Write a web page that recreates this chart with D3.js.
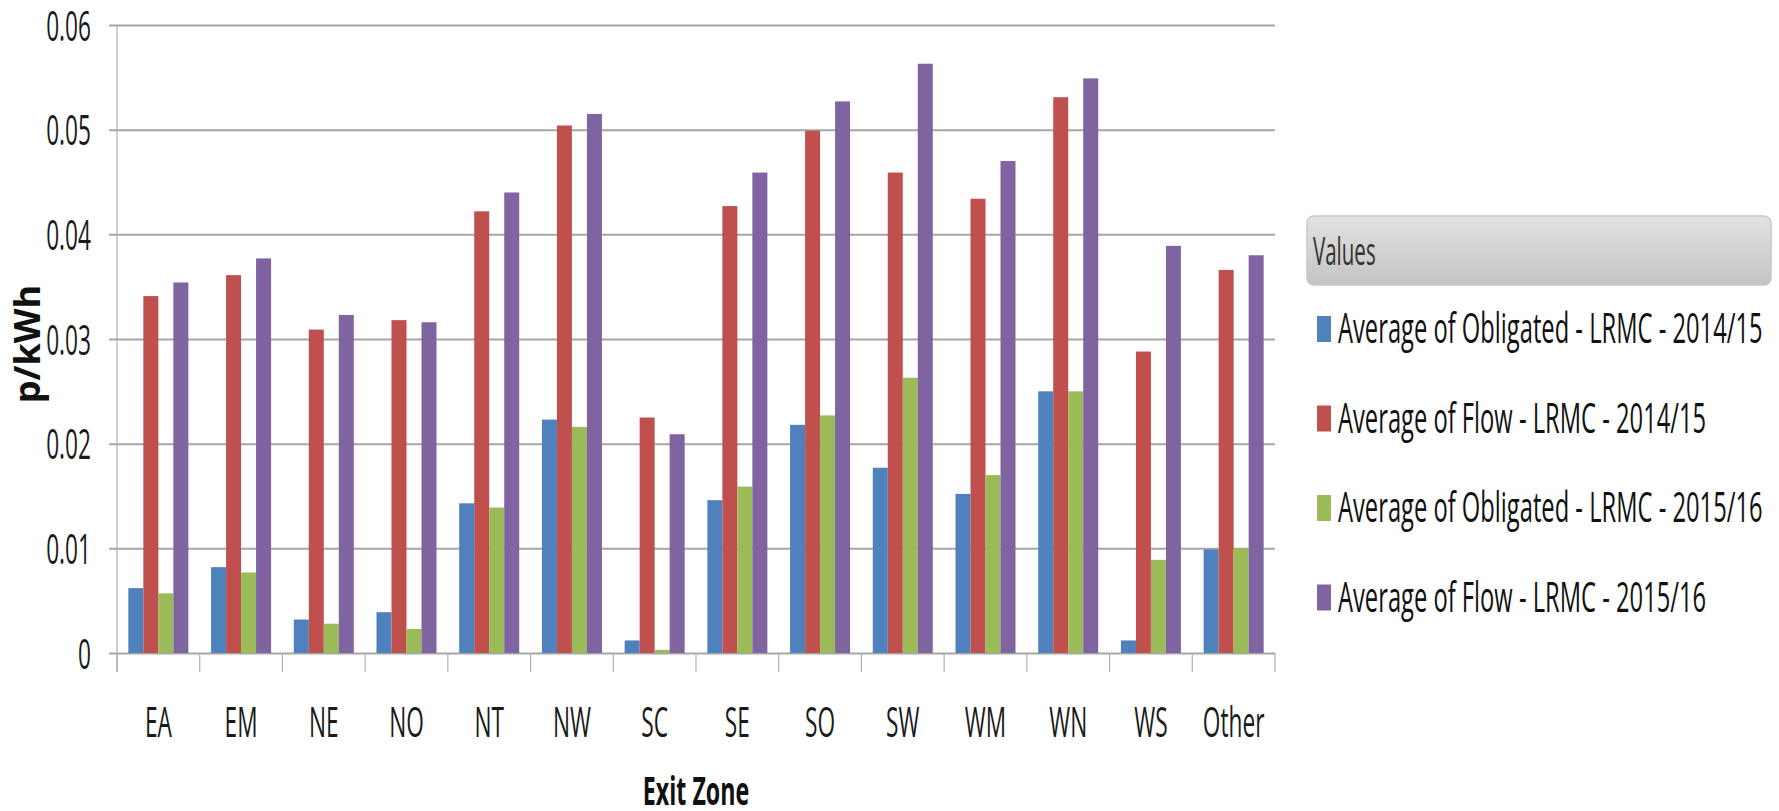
<!DOCTYPE html>
<html>
<head>
<meta charset="utf-8">
<script src="https://cdn.jsdelivr.net/npm/d3@7"></script>
<style>
  html, body { margin: 0; padding: 0; background: #ffffff; }
  svg { display: block; }
  text { font-family: "Open Sans", "Noto Sans", sans-serif; }
</style>
</head>
<body>
<svg id="chart" width="1779" height="811"></svg>
<script>
// Exit zones along the category axis
const zones = ["EA", "EM", "NE", "NO", "NT", "NW", "SC", "SE", "SO", "SW", "WM", "WN", "WS", "Other"];

// Average LRMC values, p/kWh
const obligated1415 = [0.0062, 0.0082, 0.0032, 0.0039, 0.0143, 0.0223, 0.0012, 0.0146, 0.0218, 0.0177, 0.0152, 0.0250, 0.0012, 0.0099];
const flow1415      = [0.0341, 0.0361, 0.0309, 0.0318, 0.0422, 0.0504, 0.0225, 0.0427, 0.0499, 0.0459, 0.0434, 0.0531, 0.0288, 0.0366];
const obligated1516 = [0.0057, 0.0077, 0.0028, 0.0023, 0.0139, 0.0216, 0.0003, 0.0159, 0.0227, 0.0263, 0.0170, 0.0250, 0.0089, 0.0100];
const flow1516      = [0.0354, 0.0377, 0.0323, 0.0316, 0.0440, 0.0515, 0.0209, 0.0459, 0.0527, 0.0563, 0.0470, 0.0549, 0.0389, 0.0380];

const seriesNames = [
  "Average of Obligated - LRMC - 2014/15",
  "Average of Flow - LRMC - 2014/15",
  "Average of Obligated - LRMC - 2015/16",
  "Average of Flow - LRMC - 2015/16"
];
const seriesColors = ["#4F81BD", "#C0504D", "#9BBB59", "#8064A2"];
const yTicks = [0, 0.01, 0.02, 0.03, 0.04, 0.05, 0.06];

const seriesValues = [obligated1415, flow1415, obligated1516, flow1516];
const rows = zones.map((z, i) => ({ zone: z, values: seriesValues.map(s => s[i]) }));

const svg = d3.select("#chart");

const plot = { left: 117, right: 1275, top: 25, bottom: 653 };
const condense = 0.54;   // narrow lettering used throughout the chart

const x = d3.scaleBand().domain(zones).range([plot.left, plot.right]).paddingInner(0).paddingOuter(0);
const x1 = d3.scaleBand().domain(d3.range(seriesNames.length)).range([0, x.bandwidth()])
  .paddingInner(0).paddingOuter(0.757);
const y = d3.scaleLinear().domain([0, 0.06]).range([plot.bottom, plot.top]);

// Horizontal gridlines with short ticks to the left of the value axis
const yAxis = svg.append("g")
  .attr("transform", `translate(${plot.left - 8},0)`)
  .call(d3.axisLeft(y).tickValues(yTicks).tickSize(-(plot.right - plot.left + 8)).tickFormat(d3.format("")));
yAxis.select(".domain").remove();
yAxis.selectAll(".tick line").attr("stroke", "#a6a6a6").attr("stroke-width", 2);
yAxis.selectAll(".tick text")
  .attr("x", 0).attr("dy", null)
  .attr("transform", `translate(-18,15) scale(${condense},1)`)
  .attr("text-anchor", "end")
  .attr("font-size", 42)
  .attr("fill", "#1a1a1a")
  .text(d => d === 0 ? "0" : d3.format(".2f")(d));

// Vertical value axis line
svg.append("line")
  .attr("x1", plot.left).attr("x2", plot.left)
  .attr("y1", plot.top).attr("y2", plot.bottom + 19)
  .attr("stroke", "#b0b0b0").attr("stroke-width", 1.2);

// Category boundary ticks
const boundaries = zones.map(z => x(z)).concat([plot.right]);
svg.append("g").selectAll("line").data(boundaries).join("line")
  .attr("x1", d => d).attr("x2", d => d)
  .attr("y1", plot.bottom).attr("y2", plot.bottom + 19)
  .attr("stroke", "#b0b0b0").attr("stroke-width", 1.2);

// Bars
const groups = svg.append("g").selectAll("g").data(rows).join("g")
  .attr("transform", d => `translate(${x(d.zone)},0)`);
groups.selectAll("rect").data(d => d.values.map((v, k) => ({ k, v }))).join("rect")
  .attr("x", d => x1(d.k))
  .attr("width", x1.bandwidth())
  .attr("y", d => y(d.v))
  .attr("height", d => y(0) - y(d.v))
  .attr("fill", d => seriesColors[d.k]);

// Category labels
const xAxis = svg.append("g")
  .attr("transform", `translate(0,${plot.bottom})`)
  .call(d3.axisBottom(x).tickSize(0));
xAxis.select(".domain").remove();
xAxis.selectAll(".tick text")
  .attr("y", 0).attr("dy", null)
  .attr("transform", `translate(0,84) scale(${condense},1)`)
  .attr("font-size", 42)
  .attr("fill", "#1a1a1a");

// Axis titles
svg.append("text")
  .attr("transform", `translate(${(plot.left + plot.right) / 2},805) scale(0.58,1)`)
  .attr("text-anchor", "middle")
  .style("font-size", "40px")
  .style("font-weight", "bold")
  .attr("fill", "#111")
  .text("Exit Zone");

svg.append("text")
  .attr("transform", `translate(40,${(plot.top + plot.bottom) / 2 + 5}) rotate(-90)`)
  .attr("text-anchor", "middle")
  .style("font-size", "36px")
  .style("font-weight", "bold")
  .attr("fill", "#111")
  .text("p/kWh");

// Legend
const defs = svg.append("defs");
const grad = defs.append("linearGradient").attr("id", "legendHead")
  .attr("x1", 0).attr("y1", 0).attr("x2", 0).attr("y2", 1);
grad.append("stop").attr("offset", "0%").attr("stop-color", "#e2e2e2");
grad.append("stop").attr("offset", "100%").attr("stop-color", "#c4c4c4");

const legend = svg.append("g").attr("transform", "translate(1307,216)");
legend.append("rect")
  .attr("x", 0).attr("y", 0).attr("width", 464).attr("height", 69)
  .attr("rx", 7).attr("ry", 7)
  .attr("fill", "url(#legendHead)")
  .attr("stroke", "#c8c8c8").attr("stroke-width", 1.5);
legend.append("text")
  .attr("transform", `translate(6,49) scale(${condense},1)`)
  .attr("font-size", 38)
  .attr("fill", "#333")
  .text("Values");

const items = legend.selectAll("g.item").data(seriesNames).join("g")
  .attr("class", "item")
  .attr("transform", (d, i) => `translate(0,${127 + i * 89.5})`);
items.append("rect")
  .attr("x", 10).attr("y", -27).attr("width", 14).attr("height", 26)
  .attr("fill", (d, i) => seriesColors[i]);
items.append("text")
  .attr("transform", "translate(31,0) scale(0.565,1)")
  .attr("font-size", 42)
  .attr("fill", "#111")
  .text(d => d);
</script>
</body>
</html>
